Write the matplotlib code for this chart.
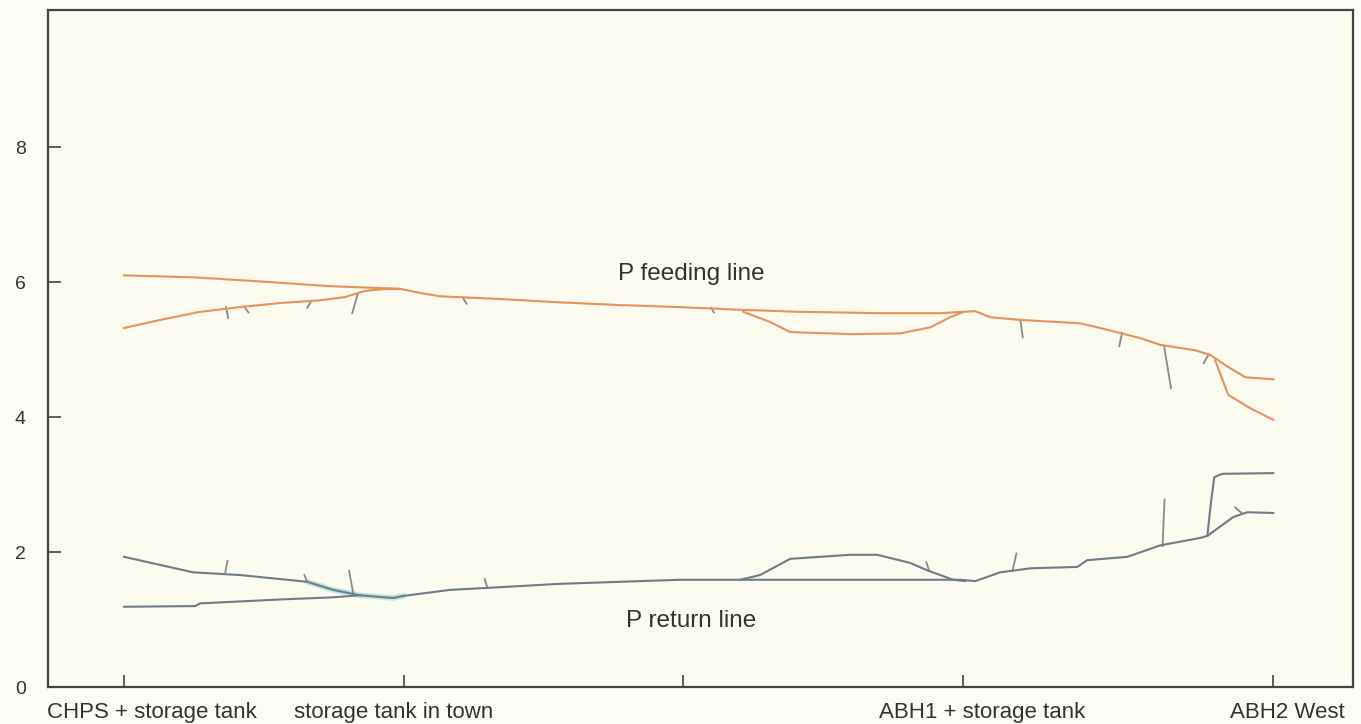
import matplotlib
matplotlib.use("Agg")
import matplotlib.pyplot as plt
from matplotlib.ticker import FixedLocator, NullFormatter, FixedFormatter

plt.rcParams['font.family'] = ['Liberation Sans', 'DejaVu Sans']

# --- Station positions along the network (distance units) ---
station_pos = [0.0, 1.0, 2.0, 3.0, 4.11]
label_pos = [0.10, 0.965, 3.07, 4.16]
label_names = ["CHPS + storage tank", "storage tank in town", "ABH1 + storage tank", "ABH2 West"]

# --- Pressure in feeding line (bar) ---
feed_main_x = [0.0, 0.254, 0.487, 0.737, 0.987, 1.059, 1.131, 1.345, 1.560, 1.775, 1.989,
               2.204, 2.419, 2.705, 2.919, 3.045, 3.098, 3.206, 3.420, 3.492, 3.635, 3.707,
               3.832, 3.886, 3.939, 4.011, 4.111]
feed_main_y = [6.10, 6.07, 6.01, 5.94, 5.90, 5.84, 5.79, 5.75, 5.70, 5.66, 5.63,
               5.59, 5.56, 5.54, 5.54, 5.57, 5.48, 5.44, 5.39, 5.32, 5.17, 5.07,
               4.99, 4.92, 4.77, 4.59, 4.56]

feed_left_x = [0.0, 0.129, 0.272, 0.415, 0.558, 0.701, 0.791, 0.862, 0.934, 0.987]
feed_left_y = [5.32, 5.44, 5.56, 5.63, 5.69, 5.73, 5.78, 5.87, 5.90, 5.90]

feed_loop_x = [2.215, 2.311, 2.383, 2.597, 2.776, 2.884, 2.955, 2.998]
feed_loop_y = [5.56, 5.41, 5.26, 5.23, 5.24, 5.33, 5.48, 5.55]

feed_end_x = [3.903, 3.950, 4.029, 4.111]
feed_end_y = [4.84, 4.33, 4.13, 3.96]

# branch offtakes on the feeding line: (x0, y0, x1, y1)
feed_stubs = [
    (0.837, 5.84, 0.816, 5.54),
    (0.365, 5.63, 0.372, 5.47),
    (0.430, 5.64, 0.445, 5.55),
    (0.670, 5.72, 0.655, 5.62),
    (1.210, 5.78, 1.225, 5.68),
    (2.100, 5.62, 2.110, 5.55),
    (3.206, 5.44, 3.215, 5.18),
    (3.570, 5.25, 3.560, 5.05),
    (3.720, 5.06, 3.745, 4.43),
    (3.880, 4.93, 3.862, 4.80),
]

# --- Pressure in return line (bar) ---
ret_main_x = [0.0, 0.129, 0.247, 0.415, 0.655, 0.748, 0.844, 0.962, 0.998, 1.166, 1.345,
              1.560, 1.775, 1.989, 2.204, 2.991, 3.045, 3.134, 3.242, 3.410, 3.445,
              3.589, 3.707, 3.850, 3.875, 3.968, 4.018, 4.111]
ret_main_y = [1.93, 1.81, 1.70, 1.66, 1.56, 1.44, 1.36, 1.32, 1.35, 1.44, 1.48,
              1.53, 1.56, 1.59, 1.59, 1.59, 1.57, 1.70, 1.76, 1.78, 1.88,
              1.93, 2.10, 2.21, 2.24, 2.52, 2.59, 2.58]

ret_left_x = [0.0, 0.254, 0.272, 0.569, 0.748, 0.844]
ret_left_y = [1.19, 1.20, 1.24, 1.30, 1.33, 1.36]

ret_loop_x = [2.204, 2.275, 2.383, 2.597, 2.694, 2.812, 2.873, 2.966, 3.009]
ret_loop_y = [1.59, 1.66, 1.90, 1.96, 1.96, 1.84, 1.73, 1.59, 1.57]

ret_end_x = [3.875, 3.889, 3.900, 3.928, 4.111]
ret_end_y = [2.24, 2.77, 3.11, 3.16, 3.17]

ret_stubs = [
    (0.362, 1.70, 0.370, 1.87),
    (0.820, 1.38, 0.805, 1.72),
    (0.655, 1.56, 0.645, 1.66),
    (1.300, 1.47, 1.290, 1.60),
    (2.880, 1.72, 2.870, 1.85),
    (3.178, 1.72, 3.192, 1.98),
    (3.715, 2.09, 3.722, 2.78),
    (4.000, 2.57, 3.975, 2.66),
]

FEED_COLOR = "#e9915a"
RET_COLOR = "#6f7c89"
STUB_COLOR = "#8a8a8a"
TEAL = "#9dd6de"

fig = plt.figure(figsize=(13.61, 7.24), dpi=100, facecolor="#fdfdf7")
ax = fig.add_axes([0.0353, 0.051, 0.959, 0.935])
ax.set_facecolor("#fbfbef")

lw = 1.5
# feeding line
ax.plot(feed_main_x, feed_main_y, color=FEED_COLOR, lw=lw, zorder=3)
ax.plot(feed_left_x, feed_left_y, color=FEED_COLOR, lw=lw, zorder=3)
ax.plot(feed_loop_x, feed_loop_y, color=FEED_COLOR, lw=lw, zorder=3)
ax.plot(feed_end_x, feed_end_y, color=FEED_COLOR, lw=lw, zorder=3)
for x0, y0, x1, y1 in feed_stubs:
    ax.plot([x0, x1], [y0, y1], color=STUB_COLOR, lw=1.3, zorder=2)

# return line
ax.plot(ret_main_x[4:9], ret_main_y[4:9], color=TEAL, lw=4, alpha=0.6, zorder=2)
ax.plot(ret_main_x, ret_main_y, color=RET_COLOR, lw=lw, zorder=3)
ax.plot(ret_left_x, ret_left_y, color=RET_COLOR, lw=lw, zorder=3)
ax.plot(ret_loop_x, ret_loop_y, color=RET_COLOR, lw=lw, zorder=3)
ax.plot(ret_end_x, ret_end_y, color=RET_COLOR, lw=lw, zorder=3)
for x0, y0, x1, y1 in ret_stubs:
    ax.plot([x0, x1], [y0, y1], color=STUB_COLOR, lw=1.3, zorder=2)

ax.text(2.03, 6.12, "P feeding line", fontsize=17.5, color="#333333", ha="center", va="center")
ax.text(2.03, 0.98, "P return line", fontsize=17.5, color="#333333", ha="center", va="center")

ax.set_xlim(-0.272, 4.397)
ax.set_ylim(0, 10.03)

# y axis
ax.set_yticks([0, 2, 4, 6, 8])
ax.tick_params(axis="y", direction="in", length=9, width=1.2, color="#444444",
               pad=16, labelsize=14, labelcolor="#333333")

# x axis: tick marks at stations, labels placed on minor ticks
ax.xaxis.set_major_locator(FixedLocator(station_pos))
ax.xaxis.set_major_formatter(NullFormatter())
ax.xaxis.set_minor_locator(FixedLocator(label_pos))
ax.xaxis.set_minor_formatter(FixedFormatter(label_names))
ax.tick_params(axis="x", which="major", direction="in", length=9, width=1.2, color="#444444")
ax.tick_params(axis="x", which="minor", length=0, pad=11, labelsize=16, labelcolor="#333333")

for s in ax.spines.values():
    s.set_color("#444444")
    s.set_linewidth(1.6)

fig.savefig("out.png", dpi=100, facecolor=fig.get_facecolor())
